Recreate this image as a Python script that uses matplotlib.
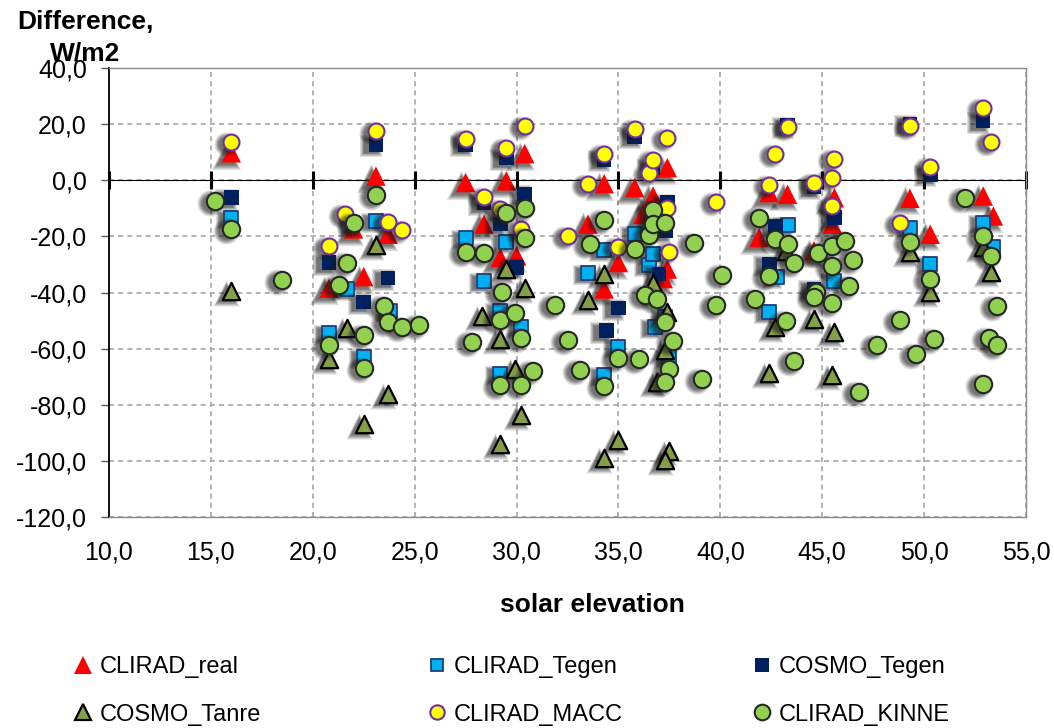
import numpy as np
import matplotlib
matplotlib.use("Agg")
import matplotlib.pyplot as plt
from matplotlib.lines import Line2D
from matplotlib.transforms import offset_copy
from matplotlib.ticker import FuncFormatter, MultipleLocator, NullFormatter

plt.rcParams['font.family'] = ['Liberation Sans', 'DejaVu Sans']

# ---- data: difference (W/m2) against solar elevation (deg) ----
real_x = [16.0, 20.8, 22.0, 22.5, 23.1, 23.7, 27.5, 28.4, 29.2, 29.5, 30.0, 30.4,
          33.5, 34.3, 34.3, 35.0, 35.8, 36.2, 36.7, 37.4, 37.4, 37.2, 41.9, 42.4,
          43.3, 44.6, 45.6, 45.5, 49.3, 50.3, 52.9, 53.4]
real_y = [9.8, -38.4, -17.3, -34.3, 1.5, -19.2, -0.8, -15.6, -27.5, -0.2, -26.9, 9.5,
          -15.6, -1.2, -38.7, -29.3, -2.6, -12.1, -5.6, 4.5, -31.6, -35.0, -20.4, -4.4,
          -5.0, -25.1, -6.2, -15.6, -6.4, -19.2, -5.6, -12.7]

clirad_tegen_x = [16.0, 20.8, 21.7, 22.5, 23.1, 23.8, 27.5, 28.4, 29.2, 29.2, 29.5, 30.2,
                  33.5, 34.3, 34.3, 35.0, 35.8, 36.5, 36.7, 36.8, 37.3, 37.5, 42.4, 42.8,
                  43.3, 45.6, 49.3, 50.3, 52.9, 53.4]
clirad_tegen_y = [-13.3, -54.2, -38.7, -63.0, -14.5, -46.5, -20.4, -35.8, -46.4, -69.0, -21.9, -52.4,
                  -33.0, -24.8, -69.5, -59.5, -19.2, -30.2, -26.3, -52.1, -48.8, -63.0, -47.0, -34.4,
                  -16.0, -35.8, -16.8, -29.8, -15.1, -23.9]

cosmo_tegen_x = [16.0, 20.8, 22.0, 22.5, 23.1, 23.7, 27.5, 28.4, 29.2, 29.5, 30.0, 30.4,
                 34.3, 34.4, 35.0, 35.8, 36.7, 37.0, 37.4, 37.3, 42.4, 42.7, 43.3, 44.6,
                 44.6, 45.6, 49.3, 50.3, 52.9]
cosmo_tegen_y = [-6.2, -29.3, -15.6, -43.3, 12.8, -34.8, 12.8, -8.0, -15.6, 8.0, -31.0, -4.8,
                 7.5, -53.5, -45.5, 15.7, 4.5, -33.4, -8.0, -18.0, -29.8, -16.2, 19.5, -2.4,
                 -38.7, -13.3, 20.0, 2.1, 21.1]

tanre_x = [16.0, 20.8, 21.7, 22.5, 23.1, 23.7, 28.3, 29.2, 29.2, 29.5, 29.9, 30.2,
           30.4, 33.5, 34.3, 34.3, 35.0, 36.7, 37.4, 37.3, 36.9, 37.5, 37.3, 42.4,
           42.7, 43.2, 44.6, 45.5, 45.6, 49.3, 50.3, 52.9, 53.3]
tanre_y = [-39.3, -63.8, -52.5, -86.7, -23.1, -76.0, -48.2, -56.5, -94.0, -31.6, -67.2, -83.7,
           -38.4, -42.6, -33.4, -98.8, -92.3, -36.4, -47.0, -60.6, -71.9, -96.5, -99.7, -68.7,
           -52.4, -25.1, -49.4, -69.2, -54.1, -25.7, -39.6, -23.9, -32.6]

macc_x = [16.0, 20.8, 21.6, 23.1, 23.7, 24.4, 27.5, 28.4, 29.2, 29.5, 30.2, 30.4,
          32.5, 33.5, 34.3, 35.0, 35.8, 36.5, 36.7, 37.4, 37.4, 37.5, 39.8, 42.4,
          42.7, 43.3, 44.6, 45.6, 45.5, 45.5, 48.8, 49.3, 50.3, 52.9, 53.3]
macc_y = [13.6, -23.3, -12.1, 17.5, -14.7, -17.8, 14.8, -5.9, -10.3, 11.4, -17.4, 19.3,
          -19.8, -1.2, 9.2, -23.6, 18.1, 2.7, 7.2, 14.9, -9.7, -25.7, -7.7, -1.7,
          9.2, 19.1, -0.8, 7.5, 0.9, -9.1, -15.1, 19.3, 4.8, 25.8, 13.6]

kinne_x = [15.2, 16.0, 18.5, 20.8, 21.3, 21.7, 22.0, 22.5, 22.5, 23.1, 23.5, 23.7,
           24.4, 25.2, 27.5, 27.8, 28.4, 29.2, 29.2, 29.3, 29.5, 29.9, 30.2, 30.2,
           30.4, 30.4, 30.8, 31.9, 32.5, 33.1, 33.6, 34.3, 34.3, 35.0, 35.8, 36.0,
           36.3, 36.5, 36.7, 36.7, 36.9, 37.3, 37.3, 37.7, 37.5, 37.3, 38.7, 39.1,
           39.8, 40.1, 41.7, 41.9, 42.4, 42.7, 43.2, 43.3, 43.6, 43.6, 44.8, 44.7,
           44.6, 45.5, 45.5, 45.5, 46.1, 46.3, 46.5, 46.8, 47.7, 48.8, 49.3, 49.6,
           50.3, 50.5, 52.0, 52.9, 52.9, 53.2, 53.3, 53.6, 53.6]
kinne_y = [-7.3, -17.5, -35.5, -58.6, -37.3, -29.4, -15.3, -55.1, -66.8, -5.2, -44.7, -50.3,
           -52.1, -51.4, -25.5, -57.7, -25.9, -49.7, -73.0, -39.8, -11.8, -47.3, -72.8, -56.1,
           -9.7, -20.4, -67.8, -44.4, -56.7, -67.7, -22.5, -14.2, -73.4, -63.4, -24.3, -63.6,
           -40.8, -19.5, -10.5, -15.6, -42.3, -15.3, -50.3, -57.1, -67.2, -71.9, -22.4, -70.7,
           -44.5, -33.6, -42.1, -13.3, -34.2, -21.0, -50.0, -22.7, -29.4, -64.2, -26.0, -39.6,
           -41.7, -23.3, -30.4, -43.6, -21.6, -37.8, -28.3, -75.4, -58.6, -49.6, -21.8, -61.8,
           -35.2, -56.5, -6.4, -19.8, -72.5, -56.3, -26.9, -44.9, -58.6]

series = [
    dict(label='CLIRAD_real', x=real_x, y=real_y, marker='^', ms=14, fc='#FF0000', ec='none', mew=0),
    dict(label='CLIRAD_Tegen', x=clirad_tegen_x, y=clirad_tegen_y, marker='s', ms=9.5, fc='#00B0F0', ec='#1F3F7A', mew=1.3),
    dict(label='COSMO_Tegen', x=cosmo_tegen_x, y=cosmo_tegen_y, marker='s', ms=10.5, fc='#002060', ec='none', mew=0),
    dict(label='COSMO_Tanre', x=tanre_x, y=tanre_y, marker='^', ms=12.5, fc='#849F48', ec='#000000', mew=1.6),
    dict(label='CLIRAD_MACC', x=macc_x, y=macc_y, marker='o', ms=11.5, fc='#FFFF00', ec='#7030A0', mew=1.5),
    dict(label='CLIRAD_KINNE', x=kinne_x, y=kinne_y, marker='o', ms=12.5, fc='#92D050', ec='#262626', mew=1.5),
]

fig = plt.figure(figsize=(10.54, 7.28), dpi=100)
W, H = 1054, 728
ax = fig.add_axes([109 / W, 1 - 517.3 / H, (1026 - 109) / W, (517.3 - 68) / H])

ax.set_xlim(10, 55)
ax.set_ylim(-120, 40)
ax.xaxis.set_major_locator(MultipleLocator(5))
ax.yaxis.set_major_locator(MultipleLocator(20))
fmt = FuncFormatter(lambda v, p: f"{v:.1f}".replace('.', ','))
ax.xaxis.set_major_formatter(fmt)
ax.yaxis.set_major_formatter(fmt)

ax.set_axisbelow(True)
ax.grid(True, color='#A6A6A6', linestyle=(0, (3, 2.5)), linewidth=1.2)

for side in ('top', 'right', 'bottom'):
    ax.spines[side].set_color('#8C8C8C')
    ax.spines[side].set_linewidth(1.0)
ax.spines['left'].set_color('black')
ax.spines['left'].set_linewidth(1.3)

ax.tick_params(axis='x', length=0, pad=17, labelsize=18)
ax.tick_params(axis='y', length=6, width=1, color='#595959', direction='out', pad=10, labelsize=18)

# horizontal axis line through zero with crossing tick marks
zero_axis = ax.secondary_xaxis((0 - (-120)) / 160)
zero_axis.set_zorder(1.8)
zero_axis.xaxis.set_major_locator(MultipleLocator(5))
zero_axis.xaxis.set_major_formatter(NullFormatter())
zero_axis.spines['bottom'].set_linewidth(2.2)
zero_axis.spines['bottom'].set_color('black')
zero_axis.tick_params(axis='x', direction='inout', length=13, width=2.2, color='black',
                      labelbottom=False, labeltop=False)

# soft drop shadow: stacked translucent copies, shifted left and slightly down
shadow_tf = offset_copy(ax.transData, fig=fig, x=-5, y=-2, units='dots')
shadow_scales = [0.95, 1.05, 1.15, 1.25, 1.35, 1.5]

for i, s in enumerate(series):
    size = s['ms'] ** 2
    for f in shadow_scales:
        ax.scatter(s['x'], s['y'], s=size * f * f, marker=s['marker'], c='#1a1a1a',
                   alpha=0.14, linewidths=0, transform=shadow_tf, zorder=3 + 2 * i)
    ax.scatter(s['x'], s['y'], s=size, marker=s['marker'], c=s['fc'],
               edgecolors=s['ec'], linewidths=s['mew'], zorder=4 + 2 * i)

fig.text(85 / W, 1 - 37.5 / H, 'Difference,\nW/m2', ha='center', va='center',
         multialignment='center', fontsize=19, fontweight='bold', linespacing=1.4)
fig.text(592 / W, 1 - 605 / H, 'solar elevation', ha='center', va='center',
         fontsize=19, fontweight='bold')

handles = []
for s in series:
    handles.append(Line2D([], [], linestyle='none', marker=s['marker'], markersize=s['ms'] * 0.9,
                          markerfacecolor=s['fc'],
                          markeredgecolor=s['ec'] if s['ec'] != 'none' else s['fc'],
                          markeredgewidth=s['mew'] if s['mew'] else 0, label=s['label']))

columns = [(handles[0], handles[3]), (handles[1], handles[4]), (handles[2], handles[5])]
col_left = [72, 426, 751]
for left, hs in zip(col_left, columns):
    fig.legend(handles=list(hs), loc='upper left', bbox_to_anchor=(left / W, 1 - 656 / H),
               frameon=False, fontsize=17, handlelength=0.9, handletextpad=0.27,
               borderpad=0, borderaxespad=0, labelspacing=1.08)

fig.savefig('out.png', dpi=100)
